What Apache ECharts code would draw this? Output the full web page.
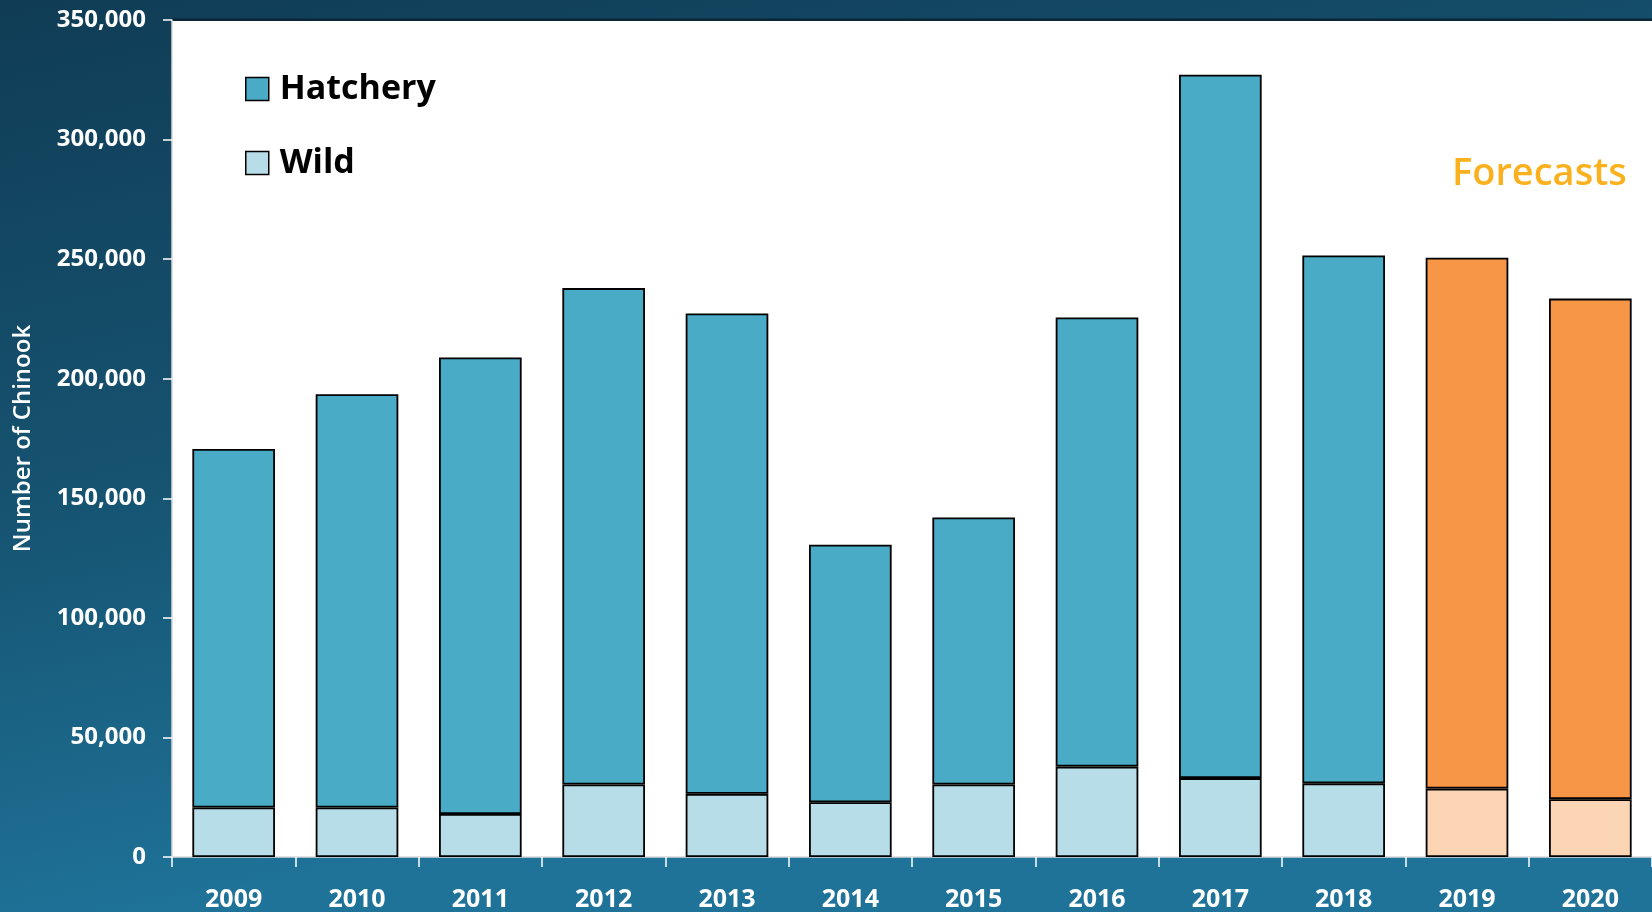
<!DOCTYPE html>
<html>
<head>
<meta charset="utf-8">
<script src="https://cdn.jsdelivr.net/npm/echarts@6/dist/echarts.min.js"></script>
<style>
html,body{margin:0;padding:0;width:1652px;height:912px;overflow:hidden;}
#c{width:1652px;height:912px;}
</style>
</head>
<body>
<div id="c"></div>
<script>
const categories = ['2009','2010','2011','2012','2013','2014','2015','2016','2017','2018','2019','2020'];
const totals = [170600,193500,208900,237900,227300,130600,142000,225600,327100,251500,250600,233500];
const wild = [20700,20700,18000,30300,26400,22900,30300,37800,33000,30800,28600,24200];
const forecastYears = ['2019','2020'];
const hatchery = totals.map((t,i)=>t-wild[i]);

const C_H = '#4aabc6', C_W = '#b7dde8', C_FH = '#f79646', C_FW = '#fcd5b5';
const font = '"Open Sans", "Noto Sans", sans-serif';

const chart = echarts.init(document.getElementById('c'));
chart.setOption({
  backgroundColor: {
    type:'linear', x:0, y:0, x2:0.12, y2:1,
    colorStops:[{offset:0,color:'#103c55'},{offset:0.55,color:'#165472'},{offset:1,color:'#1f7399'}]
  },
  animation:false,
  grid:{left:172,right:-1,top:20,bottom:55,show:true,backgroundColor:'#ffffff',borderWidth:0},
  legend:{
    orient:'vertical', left:240, top:67, itemWidth:23, itemHeight:23, itemGap:40,
    icon:'rect',
    data:['Hatchery','Wild'],
    textStyle:{fontFamily:font,fontSize:34,fontWeight:'bold',color:'#000',lineHeight:34,padding:[0,0,0,6]},
    itemStyle:{borderColor:'#000',borderWidth:1.5}
  },
  graphic:[
    {type:'text',left:1452,top:155,style:{text:'Forecasts',fill:'#fbb11d',font:'600 38px "Open Sans", "Noto Sans", sans-serif'}},
    {type:'rect',shape:{x:172,y:18.5,width:1480,height:2.5},style:{fill:'#0b2636'}}
  ],
  xAxis:{
    type:'category', data:categories,
    axisLine:{lineStyle:{color:'#d9d9d9',width:1.5}},
    axisTick:{show:true,length:10,lineStyle:{color:'#ffffff',width:1.5}},
    axisLabel:{color:'#ffffff',fontFamily:font,fontWeight:'bold',fontSize:25,margin:30}
  },
  yAxis:{
    type:'value', min:0, max:350000, interval:50000,
    name:'Number of Chinook', nameLocation:'middle', nameGap:137,
    nameTextStyle:{color:'#ffffff',fontFamily:font,fontSize:24,fontWeight:600},
    axisLine:{show:true,lineStyle:{color:'#d9d9d9',width:1.5}},
    axisTick:{show:true,length:9,lineStyle:{color:'#ffffff',width:1.5}},
    splitLine:{show:false},
    axisLabel:{color:'#ffffff',fontFamily:font,fontWeight:'bold',fontSize:24,margin:26,
      formatter:v=>v.toLocaleString('en-US')}
  },
  series:[
    {name:'Wild',type:'bar',stack:'t',barCategoryGap:'33%',
      itemStyle:{color:C_W,borderColor:'#000',borderWidth:1.8},
      data:wild.map((v,i)=>forecastYears.includes(categories[i])?{value:v,itemStyle:{color:C_FW}}:v)},
    {name:'Hatchery',type:'bar',stack:'t',barCategoryGap:'33%',
      itemStyle:{color:C_H,borderColor:'#000',borderWidth:1.8},
      data:hatchery.map((v,i)=>forecastYears.includes(categories[i])?{value:v,itemStyle:{color:C_FH}}:v)}
  ]
});
</script>
</body>
</html>
